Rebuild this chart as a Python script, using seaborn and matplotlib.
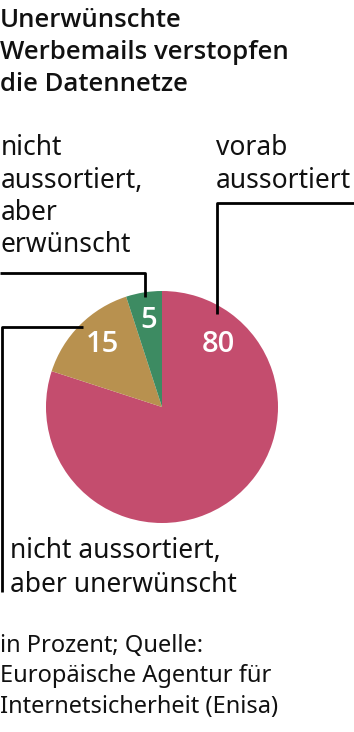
import matplotlib
matplotlib.use("Agg")
import matplotlib.pyplot as plt
import seaborn as sns

# ---- data ----
categories = ["vorab aussortiert", "nicht aussortiert, aber unerwünscht", "nicht aussortiert, aber erwünscht"]
values = [80, 15, 5]
value_labels = ["80", "15", "5"]
colors = ["#C44D6E", "#B8914F", "#3D8B62"]

title_lines = ["Unerwünschte", "Werbemails verstopfen", "die Datennetze"]
source_lines = ["in Prozent; Quelle:", "Europäische Agentur für", "Internetsicherheit (Enisa)"]

sns.set_theme(style="white")
plt.rcParams['font.family'] = ['Noto Sans', 'DejaVu Sans']

W, H = 354, 732
fig = plt.figure(figsize=(W / 100, H / 100), dpi=100)
ax = fig.add_axes([0, 0, 1, 1])

def Y(y):
    return H - y

cx, cy, r = 162, 407, 116
ax.pie(values, colors=colors, startangle=90, counterclock=False,
       center=(cx, Y(cy)), radius=r, frame=True,
       wedgeprops=dict(linewidth=0))
ax.set_xlim(0, W)
ax.set_ylim(0, H)
ax.axis("off")

# value labels in slices
vfs = 21
vfam = ["Open Sans", "DejaVu Sans"]
ax.text(218, Y(352), value_labels[0], color="white", fontsize=vfs, ha="center", va="baseline",
        fontweight="semibold", family=vfam)
ax.text(102, Y(352), value_labels[1], color="white", fontsize=vfs, ha="center", va="baseline",
        fontweight="semibold", family=vfam)
ax.text(149, Y(328), value_labels[2], color="white", fontsize=vfs, ha="center", va="baseline",
        fontweight="semibold", family=vfam)

# title
for i, line in enumerate(title_lines):
    ax.text(0, Y(27 + 32 * i), line, fontsize=18.5, fontweight="semibold", ha="left", va="baseline",
            color="#111111", family=["Open Sans", "DejaVu Sans"])

lab_fs = 19
lbl_color = "#111111"
for i, line in enumerate(["nicht", "aussortiert,", "aber", "erwünscht"]):
    ax.text(1, Y(155 + 32.5 * i), line, fontsize=lab_fs, ha="left", va="baseline", color=lbl_color)
for i, line in enumerate(["vorab", "aussortiert"]):
    ax.text(216, Y(155 + 32.5 * i), line, fontsize=lab_fs, ha="left", va="baseline", color=lbl_color)
for i, line in enumerate(["nicht aussortiert,", "aber unerwünscht"]):
    ax.text(10, Y(558 + 34 * i), line, fontsize=lab_fs, ha="left", va="baseline", color=lbl_color)

for i, line in enumerate(source_lines):
    ax.text(0, Y(652 + 30.5 * i), line, fontsize=17, ha="left", va="baseline", color=lbl_color)

# leader lines
lw = 2.0
ax.plot([217, 217, W], [Y(314), Y(203), Y(203)], color="black", lw=lw, solid_capstyle="butt")
ax.plot([0, 145, 145], [Y(273), Y(273), Y(297)], color="black", lw=lw, solid_capstyle="butt")
ax.plot([83, 2, 2], [Y(327), Y(327), Y(592)], color="black", lw=lw, solid_capstyle="butt")

fig.savefig("out.png", dpi=100)
